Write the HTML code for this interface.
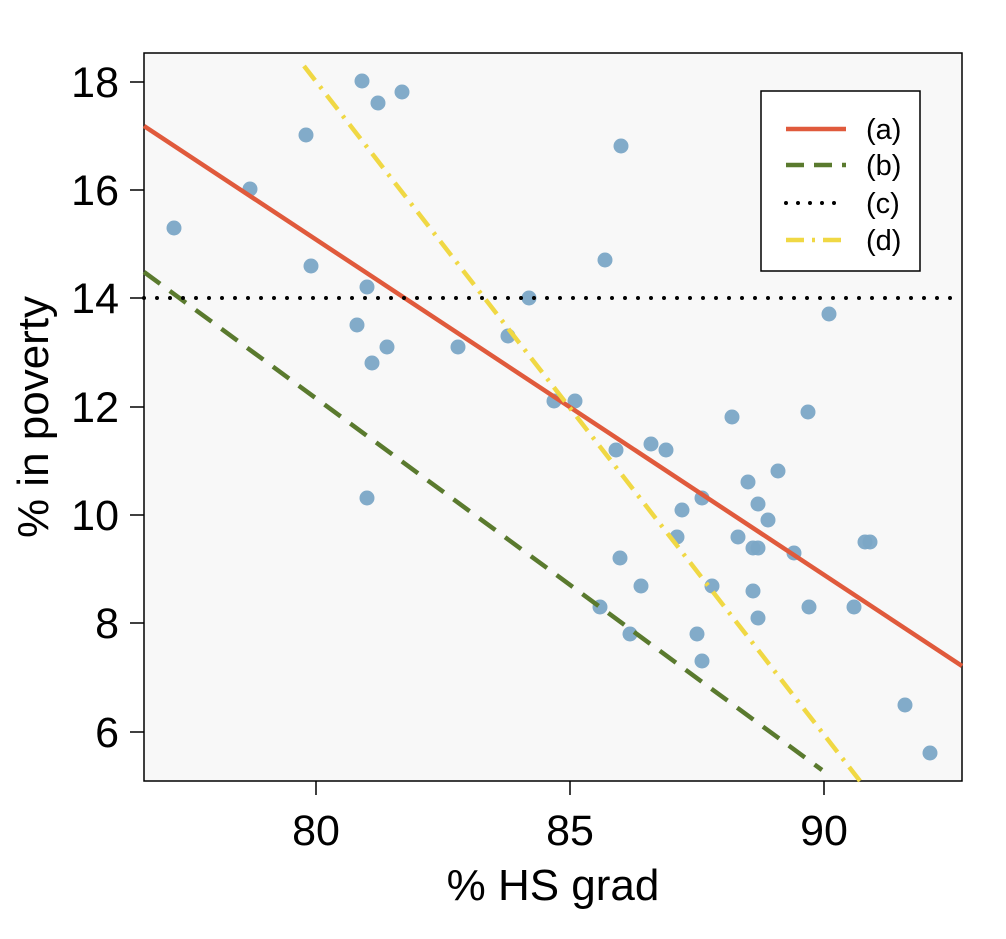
<!DOCTYPE html>
<html><head><meta charset="utf-8"><style>body{margin:0;background:#fff}</style></head><body>
<svg width="1006" height="934" xmlns="http://www.w3.org/2000/svg" font-family="Liberation Sans, Arial, sans-serif">
<rect x="144" y="53" width="818" height="728" fill="#f8f8f8" stroke="#000" stroke-width="1.5"/>
<g stroke="#000" stroke-width="1.5">
<line x1="130" y1="82" x2="144" y2="82"/><line x1="130" y1="190" x2="144" y2="190"/><line x1="130" y1="298" x2="144" y2="298"/><line x1="130" y1="407" x2="144" y2="407"/><line x1="130" y1="515" x2="144" y2="515"/><line x1="130" y1="623" x2="144" y2="623"/><line x1="130" y1="732" x2="144" y2="732"/>
<line x1="316" y1="781" x2="316" y2="795"/><line x1="570" y1="781" x2="570" y2="795"/><line x1="824" y1="781" x2="824" y2="795"/>
</g>
<g font-size="43" text-anchor="end" fill="#000">
<text x="119" y="97">18</text><text x="119" y="205">16</text><text x="119" y="313">14</text><text x="119" y="422">12</text><text x="119" y="530">10</text><text x="119" y="638">8</text><text x="119" y="747">6</text>
</g>
<g font-size="43" text-anchor="middle"><text x="316" y="845">80</text><text x="570" y="845">85</text><text x="824" y="845">90</text></g>
<text x="553" y="900" font-size="44" text-anchor="middle">% HS grad</text>
<text transform="translate(48,417) rotate(-90)" font-size="44" text-anchor="middle">% in poverty</text>
<g fill="#7ba7c6" fill-opacity="0.95">
<circle cx="174" cy="228" r="7.5"/><circle cx="250" cy="189" r="7.5"/><circle cx="306" cy="135" r="7.5"/><circle cx="311" cy="266" r="7.5"/><circle cx="362" cy="81" r="7.5"/><circle cx="378" cy="103" r="7.5"/><circle cx="402" cy="92" r="7.5"/><circle cx="357" cy="325" r="7.5"/><circle cx="367" cy="287" r="7.5"/><circle cx="372" cy="363" r="7.5"/><circle cx="387" cy="347" r="7.5"/><circle cx="367" cy="498" r="7.5"/><circle cx="458" cy="347" r="7.5"/><circle cx="508" cy="336" r="7.5"/><circle cx="529" cy="298" r="7.5"/><circle cx="554" cy="401" r="7.5"/><circle cx="575" cy="401" r="7.5"/><circle cx="605" cy="260" r="7.5"/><circle cx="621" cy="146" r="7.5"/><circle cx="616" cy="450" r="7.5"/><circle cx="620" cy="558" r="7.5"/><circle cx="630" cy="634" r="7.5"/><circle cx="641" cy="586" r="7.5"/><circle cx="651" cy="444" r="7.5"/><circle cx="666" cy="450" r="7.5"/><circle cx="682" cy="510" r="7.5"/><circle cx="677" cy="537" r="7.5"/><circle cx="702" cy="498" r="7.5"/><circle cx="697" cy="634" r="7.5"/><circle cx="702" cy="661" r="7.5"/><circle cx="712" cy="586" r="7.5"/><circle cx="732" cy="417" r="7.5"/><circle cx="738" cy="537" r="7.5"/><circle cx="748" cy="482" r="7.5"/><circle cx="753" cy="548" r="7.5"/><circle cx="758" cy="548" r="7.5"/><circle cx="753" cy="591" r="7.5"/><circle cx="758" cy="504" r="7.5"/><circle cx="758" cy="618" r="7.5"/><circle cx="768" cy="520" r="7.5"/><circle cx="778" cy="471" r="7.5"/><circle cx="794" cy="553" r="7.5"/><circle cx="808" cy="412" r="7.5"/><circle cx="809" cy="607" r="7.5"/><circle cx="829" cy="314" r="7.5"/><circle cx="854" cy="607" r="7.5"/><circle cx="865" cy="542" r="7.5"/><circle cx="870" cy="542" r="7.5"/><circle cx="905" cy="705" r="7.5"/><circle cx="930" cy="753" r="7.5"/><circle cx="600" cy="607" r="7.5"/>
</g>
<line x1="144" y1="126" x2="962" y2="666" stroke="#e05a3c" stroke-width="4.5"/>
<line x1="144" y1="272" x2="822" y2="770" stroke="#5a7a2e" stroke-width="4.5" stroke-dasharray="20,12"/>
<line x1="144" y1="298" x2="962" y2="298" stroke="#000" stroke-width="4" stroke-dasharray="0,13" stroke-linecap="round"/>
<line x1="304" y1="66" x2="860" y2="781" stroke="#f0d844" stroke-width="4.5" stroke-dasharray="18,8,3,8"/>
<rect x="761" y="91" width="159" height="180" fill="#fff" stroke="#000" stroke-width="1.5"/>
<line x1="786" y1="129" x2="846" y2="129" stroke="#e05a3c" stroke-width="4.5"/>
<line x1="786" y1="165" x2="846" y2="165" stroke="#5a7a2e" stroke-width="4.5" stroke-dasharray="18,10"/>
<line x1="786" y1="203" x2="846" y2="203" stroke="#000" stroke-width="4" stroke-dasharray="0,12" stroke-linecap="round"/>
<line x1="786" y1="240" x2="846" y2="240" stroke="#f0d844" stroke-width="4.5" stroke-dasharray="18,8,3,8"/>
<g font-size="29"><text x="866" y="139">(a)</text><text x="866" y="175">(b)</text><text x="866" y="213">(c)</text><text x="866" y="250">(d)</text></g>
</svg>
</body></html>
